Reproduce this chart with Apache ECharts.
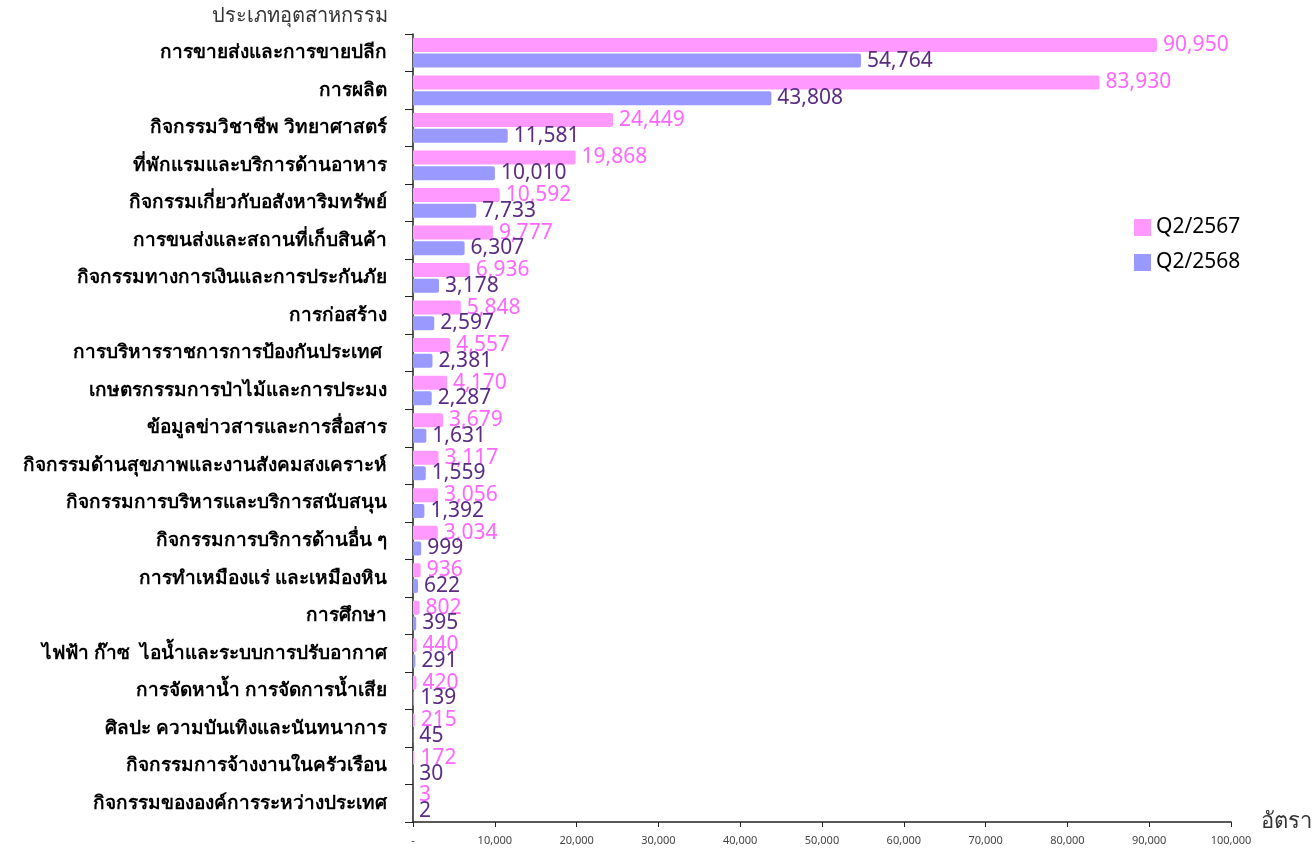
<!DOCTYPE html>
<html><head><meta charset="utf-8">
<script src="https://cdn.jsdelivr.net/npm/echarts@6/dist/echarts.min.js"></script>
<style>html,body{margin:0;padding:0;background:#fff}#c{width:1316px;height:852px}</style>
</head><body><div id="c"></div>
<script>
const categories = [
 'การขายส่งและการขายปลีก','การผลิต','กิจกรรมวิชาชีพ วิทยาศาสตร์','ที่พักแรมและบริการด้านอาหาร',
 'กิจกรรมเกี่ยวกับอสังหาริมทรัพย์','การขนส่งและสถานที่เก็บสินค้า','กิจกรรมทางการเงินและการประกันภัย',
 'การก่อสร้าง','การบริหารราชการการป้องกันประเทศ ','เกษตรกรรมการป่าไม้และการประมง',
 'ข้อมูลข่าวสารและการสื่อสาร','กิจกรรมด้านสุขภาพและงานสังคมสงเคราะห์','กิจกรรมการบริหารและบริการสนับสนุน',
 'กิจกรรมการบริการด้านอื่น ๆ','การทำเหมืองแร่ และเหมืองหิน','การศึกษา',
 'ไฟฟ้า ก๊าซ  ไอน้ำและระบบการปรับอากาศ','การจัดหาน้ำ การจัดการน้ำเสีย','ศิลปะ ความบันเทิงและนันทนาการ',
 'กิจกรรมการจ้างงานในครัวเรือน','กิจกรรมขององค์การระหว่างประเทศ'];
const q2_2567 = [90950,83930,24449,19868,10592,9777,6936,5848,4557,4170,3679,3117,3056,3034,936,802,440,420,215,172,3];
const q2_2568 = [54764,43808,11581,10010,7733,6307,3178,2597,2381,2287,1631,1559,1392,999,622,395,291,139,45,30,2];
const seriesNames = ['Q2/2567','Q2/2568'];
const xTicks = {min:0,max:100000,interval:10000};

const FONT = 'Tahoma, "Noto Sans", "DejaVu Sans", sans-serif';
const fmt = v => v.toLocaleString('en-US');
const chart = echarts.init(document.getElementById('c'));
chart.setOption({
  animation:false,
  textStyle:{fontFamily:FONT},
  legend:{
    orient:'vertical', left:1129, top:212, itemGap:14,
    itemWidth:17, itemHeight:17, icon:'rect',
    textStyle:{fontSize:21, color:'#000', fontFamily:FONT},
    data:seriesNames
  },
  grid:{left:413, right:85, top:34, bottom:30, containLabel:false},
  xAxis:{
    type:'value', min:xTicks.min, max:xTicks.max, interval:xTicks.interval,
    name:'อัตรา', nameLocation:'end', nameGap:14,
    nameTextStyle:{fontSize:22, color:'#333', verticalAlign:'middle', padding:[0,0,0,16]},
    axisLine:{show:true, lineStyle:{color:'#222', width:1.5}},
    axisTick:{show:true, length:5, lineStyle:{color:'#222'}},
    splitLine:{show:false},
    axisLabel:{fontSize:11, color:'#444', margin:13, formatter:v => v===0?'-':fmt(v)}
  },
  yAxis:{
    type:'category', data:categories, inverse:true,
    name:'ประเภทอุตสาหกรรม', nameLocation:'start', nameGap:8,
    nameTextStyle:{fontSize:20, color:'#333', align:'right', padding:[0,25,0,0]},
    axisLine:{show:true, lineStyle:{color:'#222', width:1.5}},
    axisTick:{show:true, length:8, lineStyle:{color:'#222'}},
    axisLabel:{fontSize:19, fontWeight:'bold', color:'#000', margin:26}
  },
  series:[
    {name:seriesNames[0], type:'bar', data:q2_2567, barWidth:14, barGap:'12%',
     itemStyle:{color:'#FF99FF', borderRadius:[0,2,2,0]},
     label:{show:true, position:'right', distance:6, fontSize:21, color:'#FF66FF', formatter:p=>fmt(p.value)}},
    {name:seriesNames[1], type:'bar', data:q2_2568, barWidth:14,
     itemStyle:{color:'#9999FF', borderRadius:[0,2,2,0]},
     label:{show:true, position:'right', distance:6, fontSize:21, color:'#5B2C83', formatter:p=>fmt(p.value)}}
  ]
});
</script></body></html>
